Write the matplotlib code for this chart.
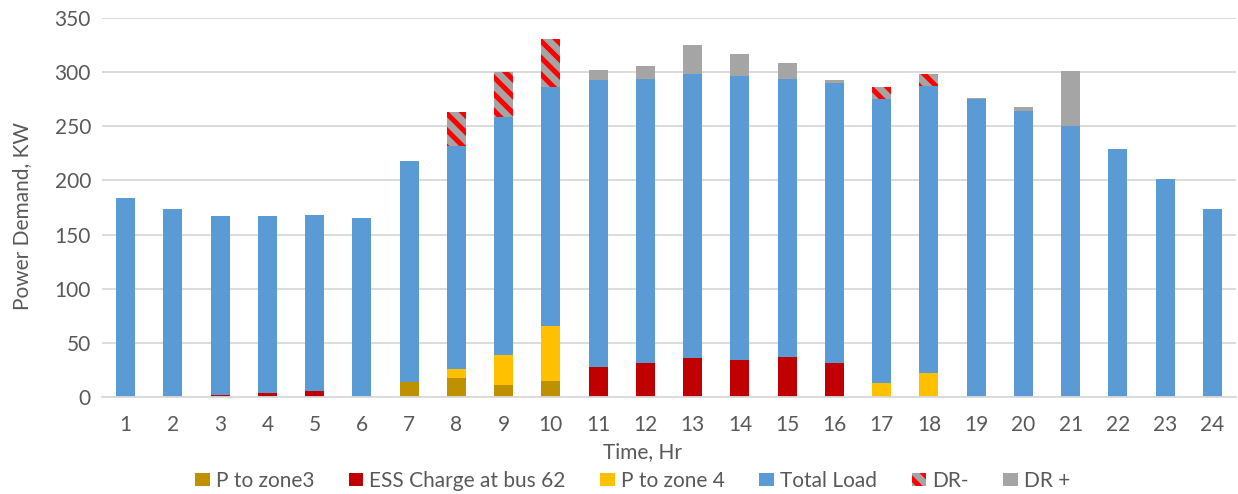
import numpy as np
import matplotlib.pyplot as plt

# -----------------------------
# Data (kW per hour)
# -----------------------------
hours = list(range(1, 25))
p_zone3 = [0, 0, 0, 0, 0, 0, 14, 17.5, 11, 14.5, 0, 0, 0, 0, 0, 0, 0, 0, 0, 0, 0, 0, 0, 0]
ess_charge = [0, 0, 1.5, 4, 5.5, 0, 0, 0, 0, 0, 27.7, 31.4, 36, 34.5, 37, 31.4, 0, 0, 0, 0, 0, 0, 0, 0]
p_zone4 = [0, 0, 0, 0, 0, 0, 0, 8, 27.5, 51, 0, 0, 0, 0, 0, 0, 13, 22, 0, 0, 0, 0, 0, 0]
total_load = [184, 173.3, 165.3, 162.8, 162.9, 165, 204, 206, 220, 221, 264.8, 262.2,
              262.3, 262, 256.6, 259, 262.5, 265.6, 275, 264, 250.2, 228.7, 201, 173.3]
dr_minus = [0, 0, 0, 0, 0, 0, 0, 31.7, 42, 44, 0, 0, 0, 0, 0, 0, 10.5, 10.5, 0, 0, 0, 0, 0, 0]
dr_plus = [0, 0, 0, 0, 0, 0, 0, 0, 0, 0, 9.8, 11.8, 26.5, 19.8, 14.5, 2, 0, 0, 1, 3.8, 50.5, 0, 0, 0]

series = [
    ("P to zone3", p_zone3, dict(color="#BF9000")),
    ("ESS Charge at bus 62", ess_charge, dict(color="#C00000")),
    ("P to zone 4", p_zone4, dict(color="#FFC000")),
    ("Total Load", total_load, dict(color="#5B9BD5")),
    ("DR-", dr_minus, dict(facecolor="#A5A5A5", edgecolor="#FF0000", hatch="\\\\", linewidth=0)),
    ("DR +", dr_plus, dict(color="#A5A5A5")),
]

# -----------------------------
# Plot
# -----------------------------
plt.rcParams['font.family'] = ['Lato', 'DejaVu Sans']
plt.rcParams['hatch.linewidth'] = 3.6
text_col = "#595959"

fig = plt.figure(figsize=(12.38, 4.94), dpi=100)
ax = fig.add_axes([0.0824, 0.1964, 0.9160, 0.7672])

x = np.arange(len(hours))
bottom = np.zeros(len(hours))
for name, vals, style in series:
    vals = np.array(vals, dtype=float)
    ax.bar(x, vals, width=0.4, bottom=bottom, label=name, **style)
    bottom += vals

ax.set_xlim(-0.5, len(hours) - 0.5)
ax.set_ylim(0, 350)
ax.set_yticks(np.arange(0, 351, 50))
ax.set_xticks(x)
ax.set_xticklabels([str(h) for h in hours])
ax.yaxis.grid(True, color="#D9D9D9", linewidth=1.3)
ax.set_axisbelow(True)
for s in ["top", "right", "left"]:
    ax.spines[s].set_visible(False)
ax.spines["bottom"].set_color("#D9D9D9")
ax.spines["bottom"].set_linewidth(1.3)
ax.tick_params(axis="both", length=0, labelsize=15, colors=text_col, pad=8)
ax.tick_params(axis="x", pad=13)

ax.set_xlabel("Time, Hr", fontsize=15, color=text_col, va="center")
ax.xaxis.set_label_coords(0.477, -0.145)
ax.set_ylabel("Power Demand, KW", fontsize=15, color=text_col, va="center")
ax.yaxis.set_label_coords(-0.0705, 0.478)

fig.legend(*ax.get_legend_handles_labels(), loc="center", bbox_to_anchor=(0.511, 0.026),
           ncol=6, frameon=False, fontsize=15, labelcolor=text_col,
           handlelength=0.7, handleheight=0.6, handletextpad=0.3, columnspacing=1.65)

fig.savefig("out.png", dpi=100)
